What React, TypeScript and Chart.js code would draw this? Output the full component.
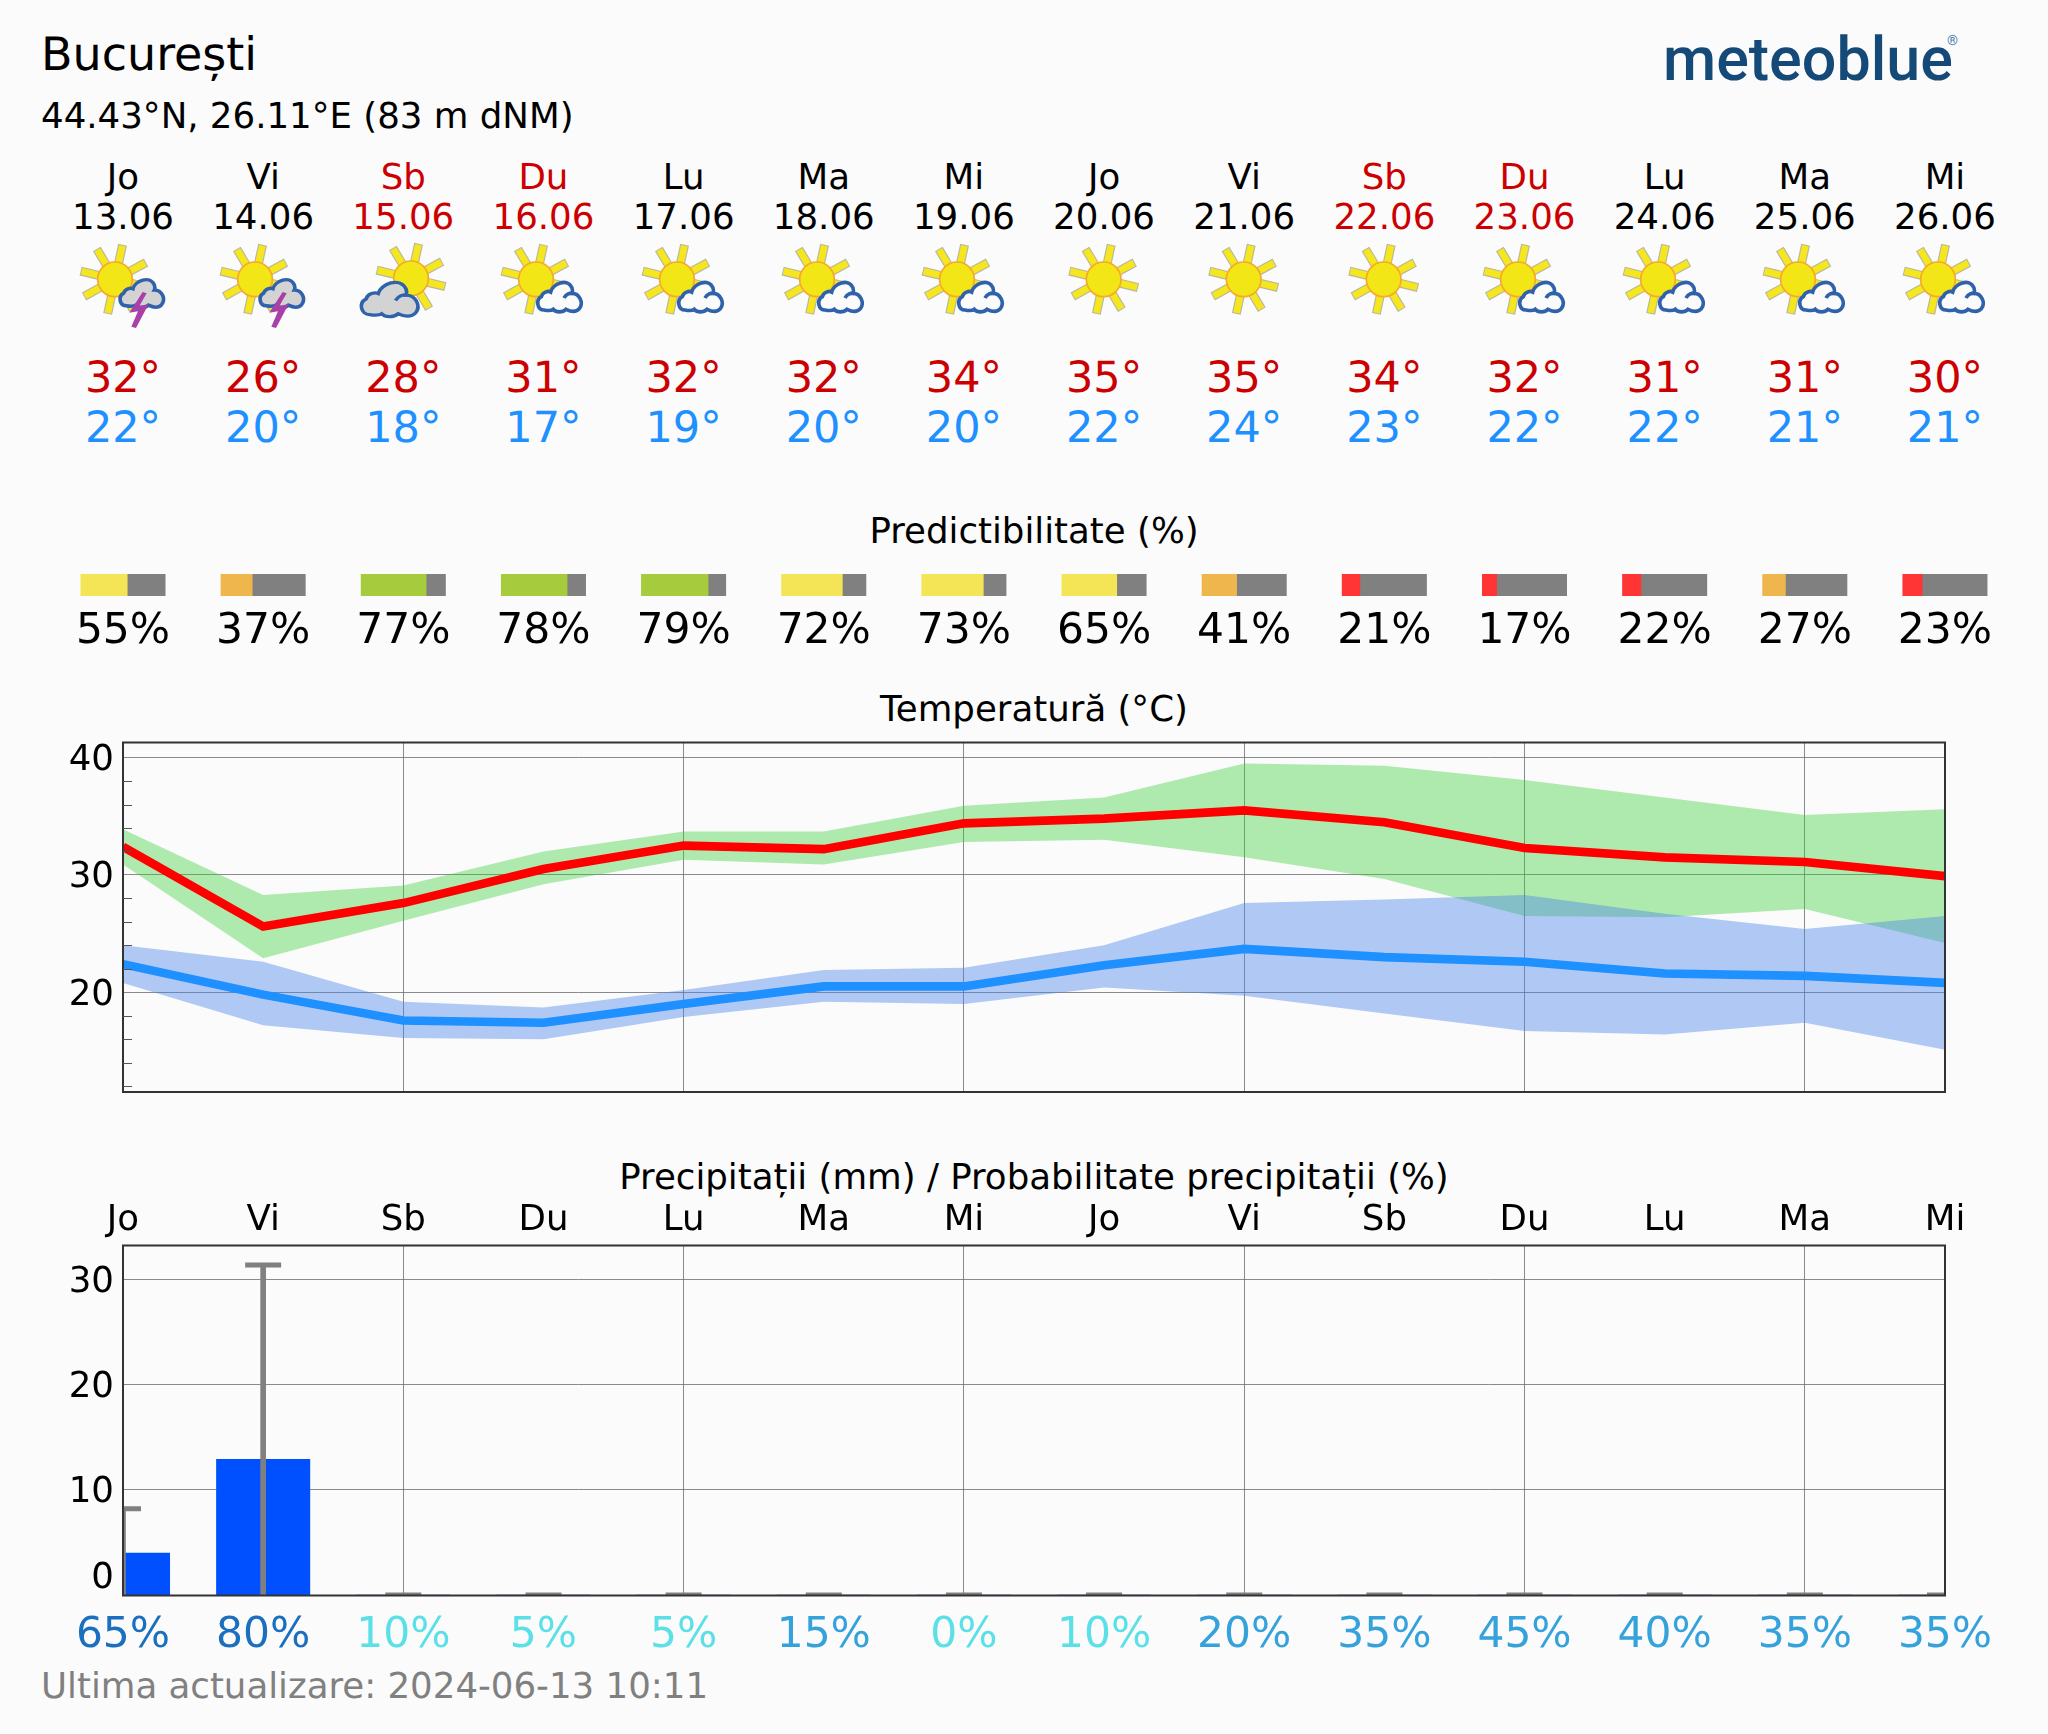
import React, { useEffect, useRef } from "react";
import { Chart, registerables } from "chart.js";

Chart.register(...registerables);

const dayNames = ["Jo", "Vi", "Sb", "Du", "Lu", "Ma", "Mi", "Jo", "Vi", "Sb", "Du", "Lu", "Ma", "Mi"];
const dates = ["13.06", "14.06", "15.06", "16.06", "17.06", "18.06", "19.06", "20.06", "21.06", "22.06", "23.06", "24.06", "25.06", "26.06"];
const weekendDays = [2, 3, 9, 10];
const iconKinds = ["storm", "storm", "cloud", "partly", "partly", "partly", "partly", "sun", "sun", "sun", "partly", "partly", "partly", "partly"];
const highLabels = [32, 26, 28, 31, 32, 32, 34, 35, 35, 34, 32, 31, 31, 30];
const lowLabels = [22, 20, 18, 17, 19, 20, 20, 22, 24, 23, 22, 22, 21, 21];
const predictability = [55, 37, 77, 78, 79, 72, 73, 65, 41, 21, 17, 22, 27, 23];

const tempMax = [32.4, 25.6, 27.6, 30.5, 32.5, 32.2, 34.4, 34.8, 35.5, 34.5, 32.3, 31.5, 31.1, 29.9];
const tempMaxUpper = [33.9, 28.3, 29.1, 32.0, 33.7, 33.7, 35.9, 36.6, 39.5, 39.3, 38.1, 36.6, 35.1, 35.6];
const tempMaxLower = [30.9, 22.9, 26.1, 29.2, 31.3, 30.9, 32.8, 33.0, 31.5, 29.65, 26.5, 26.4, 27.1, 24.2];
const tempMin = [22.4, 19.8, 17.6, 17.4, 19.0, 20.5, 20.5, 22.3, 23.7, 23.0, 22.6, 21.6, 21.4, 20.8];
const tempMinUpper = [24.0, 22.6, 19.2, 18.7, 20.2, 21.9, 22.1, 24.0, 27.6, 27.9, 28.3, 26.7, 25.4, 26.5];
const tempMinLower = [20.8, 17.2, 16.1, 16.0, 17.9, 19.2, 19.0, 20.4, 19.7, 18.2, 16.7, 16.4, 17.4, 15.1];

const precipMm = [4.0, 12.9, 0, 0, 0, 0, 0, 0, 0, 0, 0, 0, 0, 0];
const precipMaxMm = [8.2, 31.35, 0, 0, 0, 0, 0, 0, 0, 0, 0, 0, 0, 0];
const precipProb = [65, 80, 10, 5, 5, 15, 0, 10, 20, 35, 45, 40, 35, 35];

const FONT = "'DejaVu Sans'";
const AXIS_LEFT = 123;
const SLOT = 140.15;
const RIGHT_PAD = 103;
const GRID = "rgba(110,110,110,0.8)";
const slotX = (i: number) => AXIS_LEFT + SLOT * i;

const predictColor = (p: number) => (p >= 75 ? "#a6cb3d" : p >= 50 ? "#f3e555" : p >= 25 ? "#f0b64e" : "#ff3535");
const probColor = (p: number) => (p >= 50 ? "#1a6fbe" : p >= 15 ? "#36a2dc" : "#5be0e8");

const crisp = {
  id: "crisp",
  beforeDraw(chart: any) {
    chart.ctx.textRendering = "geometricPrecision";
  },
};

const frame = {
  id: "frame",
  afterDraw(chart: any) {
    const { left, top, right, bottom } = chart.chartArea;
    const c = chart.ctx;
    c.save();
    c.strokeStyle = "#333";
    c.lineWidth = 2;
    c.strokeRect(left, top, right - left, bottom - top);
    c.restore();
  },
};

const minorTicks = {
  id: "minorTicks",
  afterDraw(chart: any) {
    const s = chart.scales.y;
    const c = chart.ctx;
    c.save();
    c.strokeStyle = "#555";
    c.lineWidth = 1;
    s.ticks.forEach((t: any) => {
      if (t.value % 10 === 0) return;
      const y = Math.round(s.getPixelForValue(t.value)) + 0.5;
      c.beginPath();
      c.moveTo(s.right, y);
      c.lineTo(s.right + 9, y);
      c.stroke();
    });
    c.restore();
  },
};

const nudgeLabels = {
  id: "nudgeLabels",
  beforeDraw(chart: any) {
    if (chart.$nudged) return;
    chart.$nudged = true;
    chart.scales.y.getLabelItems().forEach((it: any) => {
      it.options.translation[1] += it.label === "0" ? -16.5 : 3.2;
    });
  },
};

function Cloud({ kind }: { kind: string }) {
  const tf =
    kind === "cloud"
      ? "translate(30,128) scale(1.3,1.17)"
      : kind === "storm"
      ? "translate(147,122) scale(1,.95)"
      : "translate(140,130)";
  const sw = kind === "cloud" ? 8.5 : 11;
  const fill = kind === "partly" ? "#fbfbfb" : "#d3d3d3";
  return (
    <g transform={tf}>
      <path
        d="M22 92 C2 92 -4 62 14 52 C18 38 34 34 42 38 C48 14 92 -6 106 26 C108 32 108 38 106 42 C128 42 142 70 128 88 C118 100 100 96 88 90 C78 100 58 100 50 90 C42 96 32 94 22 92 Z"
        fill={fill}
        stroke="#2f62ab"
        strokeWidth={sw}
      />
      {kind !== "storm" && <path d="M82 56 C88 44 100 40 110 42" fill="none" stroke="#2f62ab" strokeWidth={sw} />}
    </g>
  );
}

function Icon({ kind, i }: { kind: string; i: number }) {
  const cx = kind === "storm" ? 135 : kind === "cloud" ? 183 : kind === "partly" ? 138 : 158;
  const cy = kind === "cloud" ? 127 : 130;
  const rays = [-77.6, -28.5, 13.5, 59, 102, 151, 193.6, 239];
  return (
    <svg
      viewBox="0 0 330 300"
      width={110}
      height={100}
      style={{ position: "absolute", left: slotX(i) - 53, top: 236, filter: "blur(0.7px)", overflow: "visible" }}
    >
      {rays.map((a) => {
        const r = (a * Math.PI) / 180;
        const x1 = cx + Math.cos(r) * 45;
        const y1 = cy + Math.sin(r) * 45;
        const x2 = cx + Math.cos(r) * 106;
        const y2 = cy + Math.sin(r) * 106;
        return (
          <g key={a}>
            <line x1={x1} y1={y1} x2={x2} y2={y2} stroke="#b8b8a0" strokeWidth={27} />
            <line x1={x1} y1={y1} x2={cx + Math.cos(r) * 103} y2={cy + Math.sin(r) * 103} stroke="#f5e61e" strokeWidth={20} />
          </g>
        );
      })}
      <circle cx={cx} cy={cy} r={52} fill="#f3e616" stroke="#f6a92a" strokeWidth={5} />
      {kind !== "sun" && <Cloud kind={kind} />}
      {kind === "storm" && <path d="M218 168 L178 230 L204 226 L184 272 L198 276 L236 204 L208 210 L230 172 Z" fill="#a840a8" />}
    </svg>
  );
}

function Txt(props: { x: number; base: number; size: number; color?: string; center?: boolean; font?: string; weight?: number; children: any }) {
  const { x, base, size, color = "#000", center, font = FONT, weight = 400, children } = props;
  const asc = font === FONT ? 0.928 : 0.927;
  return (
    <div
      style={{
        position: "absolute",
        left: x,
        top: base - asc * size,
        fontFamily: font,
        fontSize: size,
        fontWeight: weight,
        color,
        whiteSpace: "nowrap",
        textRendering: "geometricPrecision",
        transform: center ? "translateX(-50%)" : undefined,
      }}
    >
      {children}
    </div>
  );
}

export default function App() {
  const predRef = useRef<HTMLCanvasElement>(null);
  const tempRef = useRef<HTMLCanvasElement>(null);
  const rainRef = useRef<HTMLCanvasElement>(null);

  useEffect(() => {
    const tickFont = { family: FONT, size: 35.6 };

    const pred = new Chart(predRef.current!, {
      type: "bar",
      data: {
        labels: ["row"],
        datasets: [
          {
            data: predictability.map((p, i) => ({ y: "row", x: [i - 0.301, i - 0.301 + (0.602 * p) / 100] })),
            backgroundColor: predictability.map(predictColor),
            barThickness: 21.5,
            grouped: false,
            order: 0,
          } as any,
          {
            data: predictability.map((p, i) => ({ y: "row", x: [i - 0.301 + (0.602 * p) / 100, i + 0.301] })),
            backgroundColor: "#808080",
            barThickness: 21.5,
            grouped: false,
            order: 1,
          } as any,
        ],
      },
      plugins: [crisp],
      options: {
        indexAxis: "y",
        animation: false,
        responsive: false,
        devicePixelRatio: 1,
        layout: { padding: { top: 10, left: 0, right: 0, bottom: 0 } },
        plugins: { legend: { display: false }, title: { display: false }, tooltip: { enabled: false } },
        scales: {
          y: { type: "category", display: false },
          x: {
            type: "linear",
            min: -AXIS_LEFT / SLOT,
            max: (2048 - AXIS_LEFT) / SLOT,
            border: { display: false },
            grid: { display: false, drawTicks: false },
            afterBuildTicks: (s: any) => {
              s.ticks = predictability.map((_, i) => ({ value: i }));
            },
            ticks: {
              autoSkip: false,
              maxRotation: 0,
              minRotation: 0,
              color: "#000",
              font: { family: FONT, size: 42.4 },
              padding: 11,
              callback: (v: any) => predictability[v] + "%",
            },
            afterFit: (s: any) => {
              s.height = 64;
              s.paddingLeft = 0;
              s.paddingRight = 0;
            },
          },
        },
      } as any,
    });

    const band = (data: number[], color: string | null, order: number) => ({
      data,
      borderWidth: 0,
      pointRadius: 0,
      fill: color ? "+1" : false,
      backgroundColor: color ?? "transparent",
      order,
      clip: 0,
    });
    const main = (data: number[], color: string, order: number) => ({
      data,
      borderColor: color,
      borderWidth: 8.6,
      borderJoinStyle: "miter",
      pointRadius: 0,
      fill: false,
      order,
      clip: 0,
    });

    const temp = new Chart(tempRef.current!, {
      type: "line",
      data: {
        labels: dayNames,
        datasets: [
          band(tempMaxUpper, "rgba(50,205,50,0.38)", 6),
          band(tempMaxLower, null, 5),
          band(tempMinUpper, "rgba(72,130,234,0.42)", 4),
          band(tempMinLower, null, 3),
          main(tempMax, "#ff0000", 1),
          main(tempMin, "#1e90ff", 0),
        ] as any,
      },
      plugins: [crisp, frame, minorTicks, nudgeLabels],
      options: {
        animation: false,
        responsive: false,
        devicePixelRatio: 1,
        layout: { padding: { top: 10.5, right: RIGHT_PAD, bottom: 10, left: 0 } },
        plugins: { legend: { display: false }, title: { display: false }, tooltip: { enabled: false } },
        scales: {
          x: {
            type: "category",
            offset: false,
            border: { display: false },
            grid: {
              offset: false,
              drawTicks: false,
              lineWidth: 1,
              color: (ctx: any) => (ctx.index % 2 === 0 && ctx.index > 0 ? GRID : "transparent"),
            },
            ticks: { display: false, autoSkip: false },
            afterFit: (s: any) => {
              s.height = 0;
              s.paddingLeft = 0;
              s.paddingRight = 0;
            },
          },
          y: {
            type: "linear",
            min: 11.5,
            max: 41.29,
            border: { display: false },
            grid: {
              drawTicks: false,
              lineWidth: 1,
              color: (ctx: any) => (ctx.tick && ctx.tick.value % 10 === 0 ? GRID : "transparent"),
            },
            ticks: {
              stepSize: 2,
              includeBounds: false,
              autoSkip: false,
              color: "#000",
              font: tickFont,
              padding: 9,
              callback: (v: any) => (v % 10 === 0 ? String(v) : ""),
            },
            afterFit: (s: any) => {
              s.width = AXIS_LEFT;
              s.paddingTop = 0;
              s.paddingBottom = 0;
            },
          },
        },
      } as any,
    });

    const rain = new Chart(rainRef.current!, {
      type: "bar",
      data: {
        labels: precipProb.map((p) => p + "%"),
        datasets: [
          {
            type: "line",
            data: precipMaxMm,
            showLine: false,
            pointStyle: "line",
            pointRadius: 18,
            pointBorderWidth: 5,
            pointBorderColor: "#808080",
            pointBackgroundColor: "#808080",
            order: 0,
            clip: 0,
          },
          {
            data: precipMaxMm.map((v) => [0, v]),
            backgroundColor: "#808080",
            barThickness: 5,
            grouped: false,
            order: 1,
            clip: 0,
          },
          {
            data: precipMm,
            backgroundColor: "#0050ff",
            barThickness: 93.4,
            grouped: false,
            order: 2,
            clip: 0,
          },
        ] as any,
      },
      plugins: [crisp, frame, nudgeLabels],
      options: {
        animation: false,
        responsive: false,
        devicePixelRatio: 1,
        layout: { padding: { top: 0, right: RIGHT_PAD, bottom: 0, left: 0 } },
        plugins: { legend: { display: false }, title: { display: false }, tooltip: { enabled: false } },
        scales: {
          x: {
            type: "category",
            position: "bottom",
            offset: false,
            border: { display: false },
            grid: {
              offset: false,
              drawTicks: false,
              lineWidth: 1,
              color: (ctx: any) => (ctx.index % 2 === 0 && ctx.index > 0 ? GRID : "transparent"),
            },
            ticks: {
              autoSkip: false,
              maxRotation: 0,
              minRotation: 0,
              padding: 15,
              font: { family: FONT, size: 42.4 },
              color: (ctx: any) => probColor(precipProb[ctx.index]),
            },
            afterFit: (s: any) => {
              s.height = 69.5;
              s.paddingLeft = 0;
              s.paddingRight = 0;
            },
          },
          x2: {
            type: "category",
            position: "top",
            offset: false,
            labels: dayNames,
            border: { display: false },
            grid: { display: false, drawTicks: false, offset: false },
            ticks: {
              autoSkip: false,
              maxRotation: 0,
              minRotation: 0,
              padding: 3,
              font: tickFont,
              color: "#000",
            },
            afterFit: (s: any) => {
              s.height = 50.5;
              s.paddingLeft = 0;
              s.paddingRight = 0;
            },
          },
          y: {
            type: "linear",
            min: -0.04,
            max: 33.2,
            border: { display: false },
            grid: {
              drawTicks: false,
              lineWidth: 1,
              color: (ctx: any) => (ctx.tick && ctx.tick.value > 0 ? GRID : "transparent"),
            },
            ticks: {
              stepSize: 10,
              includeBounds: false,
              autoSkip: false,
              color: "#000",
              font: tickFont,
              padding: 9,
              callback: (v: any) => String(v),
            },
            afterFit: (s: any) => {
              s.width = AXIS_LEFT;
              s.paddingTop = 0;
              s.paddingBottom = 0;
            },
          },
        },
      } as any,
    });

    return () => {
      pred.destroy();
      temp.destroy();
      rain.destroy();
    };
  }, []);

  const abs = (top: number, height: number): React.CSSProperties => ({ position: "absolute", left: 0, top, width: 2048, height, display: "block" });

  return (
    <div style={{ position: "absolute", left: 0, top: 0, width: 2048, height: 1734, background: "#fbfbfb", overflow: "hidden" }}>
      <Txt x={41} base={70} size={46}>București</Txt>
      <Txt x={41} base={129} size={35.6}>44.43°N, 26.11°E (83 m dNM)</Txt>
      <Txt x={1663} base={80} size={61} font="Roboto" weight={500} color="#154a78">meteoblue</Txt>
      <Txt x={1947} base={46} size={14} font="Roboto" color="#4a7fa8">®</Txt>

      {dayNames.map((d, i) => {
        const c = weekendDays.includes(i) ? "#cc0000" : "#000";
        return (
          <React.Fragment key={i}>
            <Txt x={slotX(i)} base={190.3} size={35.6} color={c} center>{d}</Txt>
            <Txt x={slotX(i)} base={229.7} size={35.6} color={c} center>{dates[i]}</Txt>
            <Icon kind={iconKinds[i]} i={i} />
            <Txt x={slotX(i)} base={392.5} size={43} color="#cc0000" center>{highLabels[i]}°</Txt>
            <Txt x={slotX(i)} base={442.5} size={43} color="#1e90ff" center>{lowLabels[i]}°</Txt>
          </React.Fragment>
        );
      })}

      <Txt x={1034} base={544} size={35.6} center>Predictibilitate (%)</Txt>
      <Txt x={1034} base={722.5} size={35.6} center>Temperatură (°C)</Txt>
      <Txt x={1034} base={1190.5} size={35.6} center>Precipitații (mm) / Probabilitate precipitații (%)</Txt>
      <Txt x={41} base={1699.5} size={35.6} color="#808080">Ultima actualizare: 2024-06-13 10:11</Txt>

      <canvas ref={predRef} width={2048} height={96} style={abs(564, 96)} />
      <canvas ref={tempRef} width={2048} height={370} style={abs(732, 370)} />
      <canvas ref={rainRef} width={2048} height={470} style={abs(1195, 470)} />
    </div>
  );
}
